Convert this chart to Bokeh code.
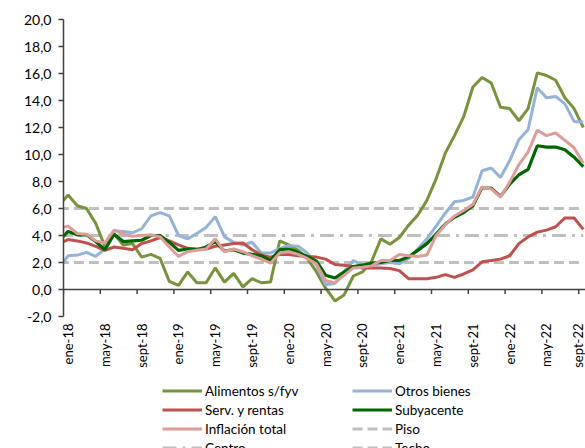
import math
from bokeh.plotting import figure
from bokeh.layouts import column
from bokeh.models import Range1d, FixedTicker, Span, Legend, LegendItem
from bokeh.embed import file_html
from bokeh.resources import INLINE

# ---------------- data ----------------
meses = ["ene", "feb", "mar", "abr", "may", "jun", "jul", "ago", "sept", "oct", "nov", "dic"]
periodos = ["dic-17"] + [f"{m}-{a}" for a in range(18, 23) for m in meses][:57]
x = list(range(-1, 57))  # dic-17 = -1, ene-18 = 0 ... sept-22 = 56

alimentos = [6.2, 7.0, 6.2, 6.0, 4.9, 3.2, 4.1, 3.3, 3.4, 2.4, 2.6, 2.3, 0.6, 0.3, 1.3, 0.5,
             0.5, 1.6, 0.55, 1.2, 0.2, 0.8, 0.5, 0.55, 3.6, 3.3, 2.9, 2.3, 1.3, 0.1, -0.85, -0.4,
             1.0, 1.3, 2.1, 3.75, 3.35, 3.85, 4.75, 5.5, 6.6, 8.2, 10.1, 11.4, 12.8, 15.0, 15.7,
             15.3, 13.5, 13.4, 12.5, 13.4, 16.05, 15.85, 15.5, 14.2, 13.4, 12.0]
otros = [1.5, 2.5, 2.55, 2.75, 2.45, 3.0, 4.35, 4.3, 4.2, 4.5, 5.45, 5.7, 5.45, 4.0, 3.75, 4.15,
         4.6, 5.4, 3.9, 3.5, 3.3, 3.5, 2.7, 2.7, 3.05, 3.25, 3.2, 2.7, 1.8, 0.35, 0.45, 1.3,
         2.15, 1.8, 1.8, 1.9, 2.0, 1.9, 2.3, 3.0, 3.75, 4.7, 5.65, 6.5, 6.6, 6.85, 8.8, 9.0,
         8.3, 9.55, 11.1, 11.85, 14.95, 14.2, 14.3, 13.75, 12.45, 12.4]
servicios = [3.4, 3.7, 3.6, 3.45, 3.2, 2.9, 3.15, 3.05, 2.95, 3.4, 3.6, 3.85, 3.6, 3.3, 3.05, 3.0,
             3.0, 3.2, 3.3, 3.4, 3.45, 2.95, 2.55, 2.4, 2.6, 2.6, 2.5, 2.45, 2.4, 2.25, 1.85, 1.8,
             1.7, 1.6, 1.6, 1.6, 1.55, 1.4, 0.8, 0.8, 0.8, 0.9, 1.1, 0.9, 1.15, 1.45, 2.05, 2.15,
             2.25, 2.5, 3.4, 3.9, 4.25, 4.4, 4.65, 5.3, 5.3, 4.45]
subyacente = [3.6, 4.3, 4.05, 4.05, 3.55, 2.95, 4.1, 3.55, 3.6, 3.65, 4.0, 4.0, 3.5, 2.9, 3.0, 2.95,
              3.15, 3.55, 2.85, 2.95, 2.7, 2.6, 2.5, 2.15, 2.95, 3.0, 2.75, 2.45, 2.1, 1.05, 0.85, 1.3,
              1.7, 1.8, 1.95, 2.0, 2.15, 2.15, 2.4, 2.9, 3.4, 4.1, 4.85, 5.35, 5.7, 6.2, 7.55, 7.5,
              6.9, 7.8, 8.5, 8.9, 10.65, 10.55, 10.55, 10.35, 9.8, 9.1]
inflacion = [4.5, 4.7, 4.15, 4.1, 3.6, 3.45, 4.4, 4.1, 3.95, 4.0, 4.05, 3.9, 3.15, 2.45, 2.8, 2.9,
             3.0, 3.75, 2.8, 3.0, 2.8, 2.5, 2.25, 1.95, 2.7, 2.8, 2.6, 2.3, 1.9, 0.65, 0.5, 1.05,
             1.6, 1.65, 1.75, 2.15, 2.15, 2.6, 2.5, 2.45, 2.55, 4.0, 4.8, 5.45, 5.85, 6.3, 7.6, 7.45,
             6.85, 7.95, 9.25, 10.2, 11.8, 11.4, 11.6, 11.05, 10.5, 9.35]
piso = 2.0
centro = 4.0
techo = 6.0

y_ticks = [-2, 0, 2, 4, 6, 8, 10, 12, 14, 16, 18, 20]
y_tick_labels = ["-2,0", "0,0", "2,0", "4,0", "6,0", "8,0", "10,0", "12,0", "14,0", "16,0", "18,0", "20,0"]
x_label_idx = list(range(0, 57, 4))

series = {
    "Piso": [piso] * len(x),
    "Centro": [centro] * len(x),
    "Techo": [techo] * len(x),
    "Alimentos s/fyv": alimentos,
    "Otros bienes": otros,
    "Serv. y rentas": servicios,
    "Subyacente": subyacente,
    "Inflación total": inflacion,
}

FONT = "Lato"
GRAY = "#BFBFBF"
styles = {
    "Alimentos s/fyv": dict(line_color="#77933C", line_width=3),
    "Otros bienes": dict(line_color="#95B3D7", line_width=3),
    "Serv. y rentas": dict(line_color="#C0504D", line_width=3),
    "Subyacente": dict(line_color="#006600", line_width=3.2),
    "Inflación total": dict(line_color="#DE9C9A", line_width=3),
    "Piso": dict(line_color=GRAY, line_width=3, line_dash="10 5"),
    "Centro": dict(line_color=GRAY, line_width=3, line_dash="14 6 3 6"),
    "Techo": dict(line_color=GRAY, line_width=3, line_dash="10 5"),
}

# ---------------- main figure ----------------
p = figure(width=585, height=375, output_backend="svg", toolbar_location=None,
           x_range=Range1d(-0.5, 56.24), y_range=Range1d(-2, 20),
           min_border_left=63, min_border_right=0, min_border_top=19, min_border_bottom=59)
p.outline_line_color = None
p.grid.visible = False

ya = p.yaxis[0]
ya.ticker = FixedTicker(ticks=y_ticks)
ya.major_label_overrides = {t: l for t, l in zip(y_ticks, y_tick_labels)}
ya.axis_line_color = "#404040"
ya.axis_line_width = 1.5
ya.major_tick_line_color = "#404040"
ya.major_tick_line_width = 1.5
ya.major_tick_out = 5
ya.major_tick_in = 0
ya.minor_tick_line_color = None
ya.major_label_standoff = 7
ya.major_label_text_font = FONT
ya.major_label_text_font_size = "14px"
ya.major_label_text_color = "black"

xa = p.xaxis[0]
xa.ticker = FixedTicker(ticks=x_label_idx)
xa.major_label_overrides = {i: periodos[i + 1] for i in x_label_idx}
xa.axis_line_color = None
xa.major_tick_line_color = None
xa.minor_tick_line_color = None
xa.major_tick_out = 0
xa.major_tick_in = 0
xa.major_label_standoff = 7
xa.major_label_orientation = math.pi / 2
xa.major_label_text_font = FONT
xa.major_label_text_font_size = "13px"
xa.major_label_text_color = "black"

# zero line with tick marks at category boundaries
p.add_layout(Span(location=0, dimension="width", line_color="#404040", line_width=1.5))
tick_x = [i - 0.5 for i in x_label_idx]
p.segment(x0=tick_x, y0=[0] * len(tick_x), x1=tick_x, y1=[-0.33] * len(tick_x),
          line_color="#404040", line_width=1.5)

for name in ["Piso", "Centro", "Techo", "Alimentos s/fyv", "Otros bienes",
             "Serv. y rentas", "Subyacente", "Inflación total"]:
    p.line(x, series[name], **styles[name])

# ---------------- legend strip ----------------
lf = figure(width=585, height=73, output_backend="svg", toolbar_location=None,
            x_axis_location=None, y_axis_location=None,
            x_range=Range1d(100, 101), y_range=Range1d(100, 101),
            min_border_left=0, min_border_right=0, min_border_top=0, min_border_bottom=0)
lf.outline_line_color = None
lf.grid.visible = False

def legend_col(names, vx):
    # one-point renderers (draw nothing, outside the ranges) that carry each series' style
    items = [LegendItem(label=n, renderers=[lf.line(x[:1], series[n][:1], **styles[n])]) for n in names]
    return Legend(items=items, location=(vx, -9), orientation="vertical",
                  border_line_color=None, background_fill_alpha=0,
                  padding=0, margin=0, spacing=0,
                  glyph_width=40, glyph_height=19, label_height=19, label_standoff=3,
                  label_text_font=FONT, label_text_font_size="13.5px", label_text_color="black")

lf.add_layout(legend_col(["Alimentos s/fyv", "Serv. y rentas", "Inflación total", "Centro"], 99), "center")
lf.add_layout(legend_col(["Otros bienes", "Subyacente", "Piso", "Techo"], 289), "center")

layout = column(p, lf, spacing=0)
open("out.html", "w").write(file_html(layout, INLINE))
